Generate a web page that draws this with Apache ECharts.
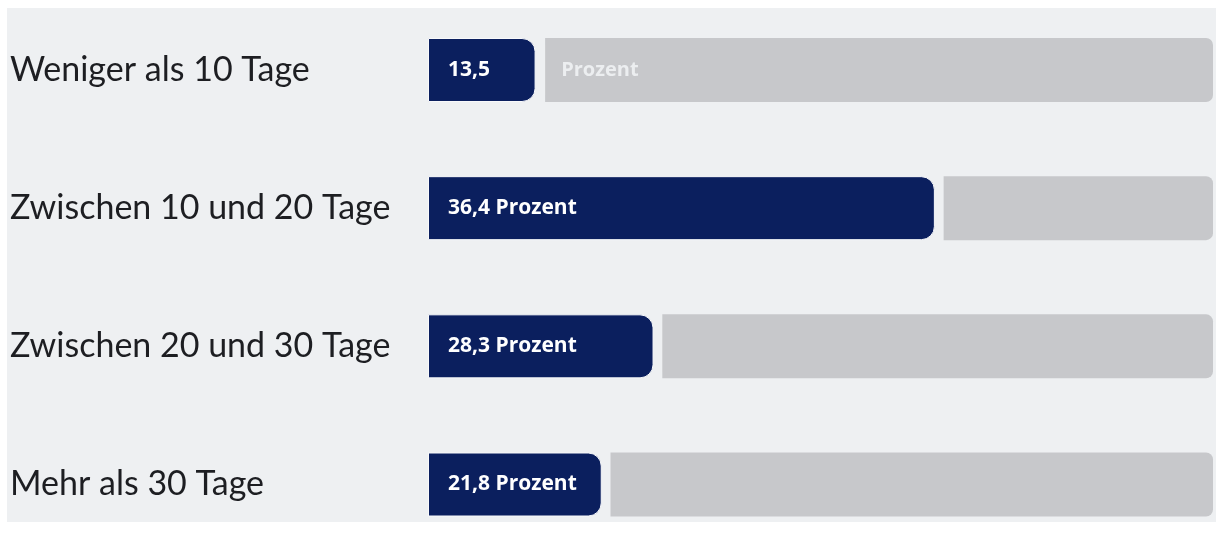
<!DOCTYPE html>
<html>
<head>
<meta charset="utf-8">
<script src="https://cdn.jsdelivr.net/npm/echarts@6/dist/echarts.min.js"></script>
<style>
  html, body { margin: 0; padding: 0; background: #ffffff; }
  #chart { width: 1221px; height: 533px; }
</style>
</head>
<body>
<div id="chart"></div>
<script>
// Categories (top to bottom)
const categories = ['Weniger als 10 Tage', 'Zwischen 10 und 20 Tage', 'Zwischen 20 und 30 Tage', 'Mehr als 30 Tage'];
// Stated percentages (shown as labels)
const percentValues = [13.5, 36.4, 28.3, 21.8];
// Bar lengths as drawn in the original graphic (second bar is drawn longer than its value)
const drawnLengths = [13.5, 63.6, 28.3, 21.8];
// Full track length of the gray background bar
const trackMax = 98.5;
// Gap between dark bar and gray track
const gapValues = [1.2, 1.1, 1.1, 1.1];
// Whether the word "Prozent" moves into the gray track (bar too short)
const splitLabel = [true, false, false, false];

const fmt = v => v.toFixed(1).replace('.', ',');
const grayValues = drawnLengths.map((d, i) => trackMax - d - gapValues[i]);

const chart = echarts.init(document.getElementById('chart'));
chart.setOption({
  animation: false,
  backgroundColor: '#ffffff',
  graphic: [{
    type: 'rect', z: -10, silent: true,
    shape: { x: 7, y: 8, width: 1209, height: 514 },
    style: { fill: '#eef0f2' }
  }],
  grid: { left: 428, right: 1221 - 428 - 785, top: 70, bottom: 533 - 484.5, containLabel: false },
  xAxis: {
    type: 'value', min: 0, max: trackMax,
    show: false
  },
  yAxis: {
    type: 'category', data: categories, inverse: true, boundaryGap: false,
    axisLine: { show: false }, axisTick: { show: false }, splitLine: { show: false },
    axisLabel: {
      align: 'left', margin: 418,
      fontFamily: 'Lato', fontSize: 34, color: '#1d1e22'
    }
  },
  series: [
    {
      type: 'bar', stack: 's', barWidth: 64,
      data: drawnLengths,
      itemStyle: { color: '#0b1f5e', borderRadius: [0, 13, 13, 0], borderColor: '#f8f9fb', borderWidth: 1 },
      label: {
        show: true, position: 'insideLeft', distance: 20,
        color: '#ffffff', fontFamily: 'Open Sans', fontWeight: 'bold', fontSize: 21,
        formatter: p => splitLabel[p.dataIndex] ? fmt(percentValues[p.dataIndex]) : fmt(percentValues[p.dataIndex]) + ' Prozent'
      }
    },
    {
      type: 'bar', stack: 's', barWidth: 64,
      data: gapValues,
      itemStyle: { color: 'rgba(0,0,0,0)' },
      silent: true
    },
    {
      type: 'bar', stack: 's', barWidth: 64,
      data: grayValues,
      itemStyle: { color: '#c7c8cb', borderRadius: [0, 7, 7, 0] },
      label: {
        show: true, position: 'insideLeft', distance: 16,
        color: '#eceef0', fontFamily: 'Open Sans', fontWeight: 'bold', fontSize: 20,
        formatter: p => splitLabel[p.dataIndex] ? 'Prozent' : ''
      }
    }
  ]
});
</script>
</body>
</html>
